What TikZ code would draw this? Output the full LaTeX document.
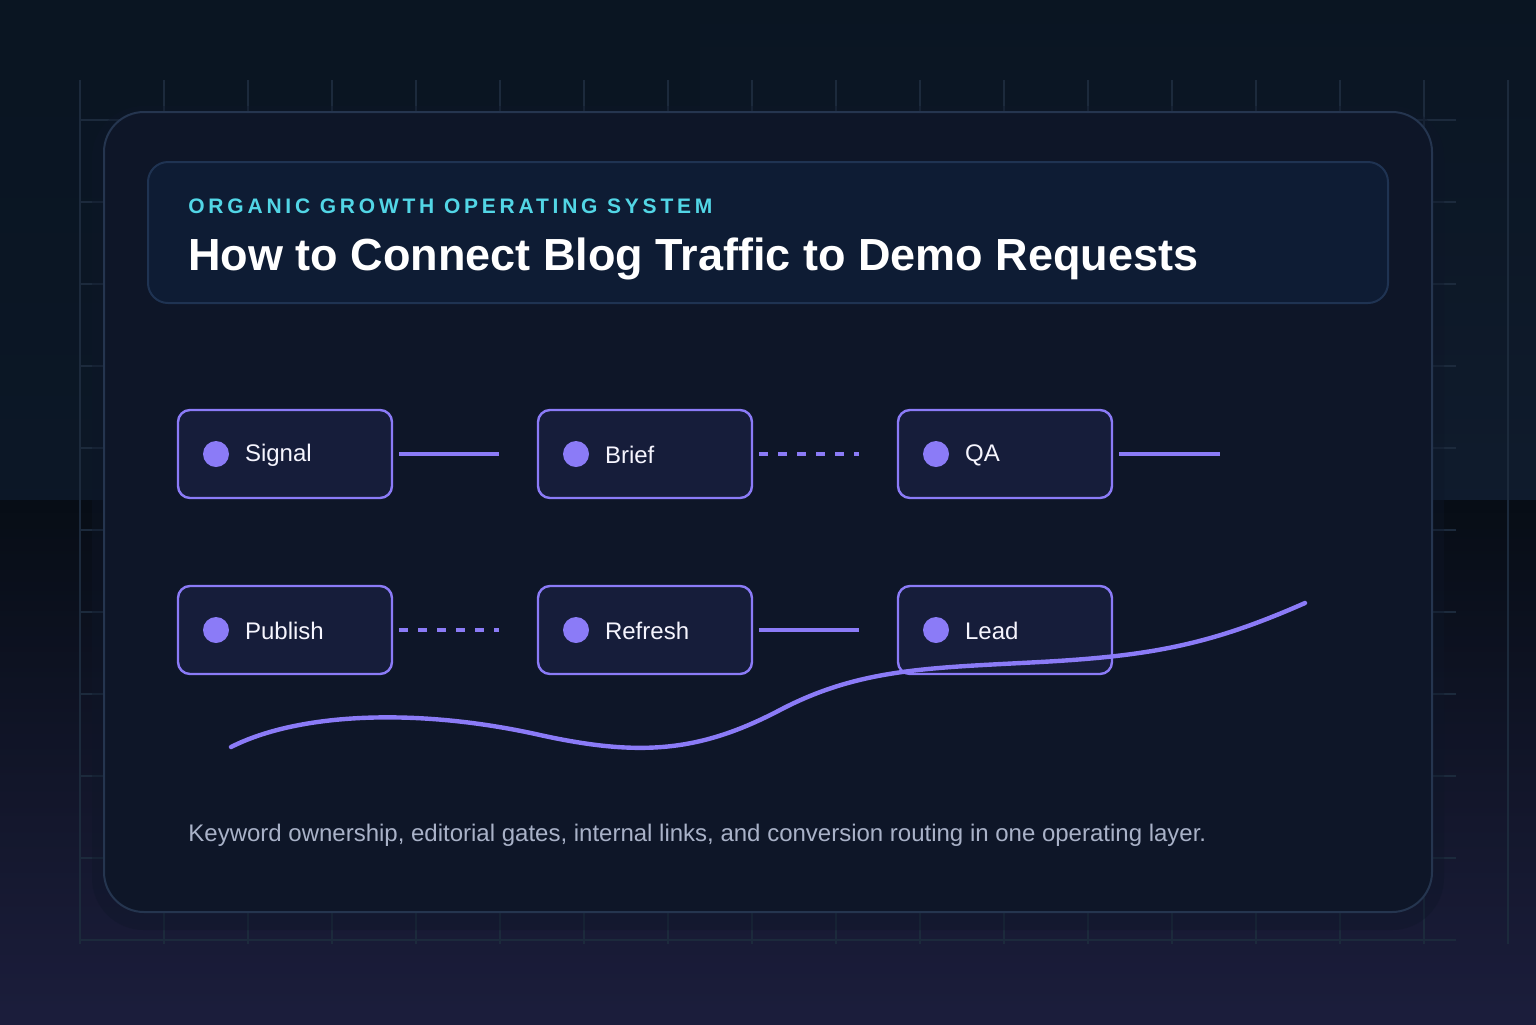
\documentclass[tikz,border=0pt]{standalone}
\usepackage{fontspec}
\setmainfont{Liberation Sans}
\newfontfamily\spaced[LetterSpace=18]{Liberation Sans}
\definecolor{bgA}{HTML}{0A1522}
\definecolor{bgB}{HTML}{152238}
\definecolor{bgC}{HTML}{221A40}
\definecolor{card}{HTML}{0E1628}
\definecolor{cardline}{HTML}{25354F}
\definecolor{head}{HTML}{0E1C34}
\definecolor{headline}{HTML}{1F3352}
\definecolor{cyan}{HTML}{52D6E6}
\definecolor{nodefill}{HTML}{161D3A}
\definecolor{purp}{HTML}{8B7BF7}
\definecolor{cap}{HTML}{A9B2C8}
\definecolor{grid}{HTML}{1C2A3C}
\begin{document}
\begin{tikzpicture}[x=0.5pt,y=-0.5pt,
  stage/.style={draw=purp,line width=1.2pt,fill=nodefill,rounded corners=6pt,minimum width=107pt,minimum height=44pt,inner sep=0pt},
  lbl/.style={anchor=west,text=white!92!purp,font=\fontsize{12}{14}\selectfont},
  dot/.style={circle,fill=purp,minimum size=13pt,inner sep=0pt},
  con/.style={draw=purp,line width=1.6pt},
  dashcon/.style={con,dash pattern=on 4.5pt off 5pt}]
\useasboundingbox (0,0) rectangle (1536,1024);
\shade[left color=bgA,right color=bgB,shading angle=0] (0,0) rectangle (1536,1024);
\shade[top color=bgB!0!black,bottom color=bgC,opacity=0.5] (0,500) rectangle (1536,1024);
\fill[bgA,opacity=0.5] (0,0) rectangle (700,500);
\foreach \x in {80,164,...,1508} \draw[grid,line width=0.6pt] (\x,80) -- (\x,944);
\foreach \y in {120,202,...,940} \draw[grid,line width=0.6pt] (80,\y) -- (1456,\y);
\draw[card,line width=12pt,opacity=0.4,rounded corners=20pt] (104,118) rectangle (1432,918);
\node[draw=cardline,fill=card,line width=1pt,rounded corners=20pt,minimum width=664pt,minimum height=400pt,inner sep=0pt] (cardn) at (768,512) {};
\node[draw=headline,fill=head,line width=1pt,rounded corners=10pt,minimum width=620pt,minimum height=70.5pt,inner sep=0pt] (hdr) at (768,232.5) {};
\node[anchor=base west,inner sep=0pt,text=cyan,font=\spaced\bfseries\fontsize{10.5}{12}\selectfont] (sub) at (188,213) {ORGANIC GROWTH OPERATING SYSTEM};
\node[anchor=base west,inner sep=0pt,text=white,font=\bfseries\fontsize{22.5}{26}\selectfont] (title) at (188,270) {How to Connect Blog Traffic to Demo Requests};
\foreach \n/\t/\x/\y in {a/Signal/285/454,b/Brief/645/454,c/QA/1005/454,d/Publish/285/630,e/Refresh/645/630,f/Lead/1005/630}{
  \node[stage] (\n) at (\x,\y) {};
  \node[dot] (\n d) at (\x-69,\y) {};
  \node[lbl] (\n t) at (\x-47,\y+1) {\t};
}
\coordinate (qend) at (1220,454);
\draw[con] ([xshift=3pt]a.east) -- ([xshift=-19pt]b.west);
\draw[dashcon] ([xshift=3pt]b.east) -- ([xshift=-19pt]c.west);
\draw[con] ([xshift=3pt]c.east) -- (qend);
\draw[dashcon] ([xshift=3pt]d.east) -- ([xshift=-19pt]e.west);
\draw[con] ([xshift=3pt]e.east) -- ([xshift=-19pt]f.west);
\coordinate (w0) at (231,747);
\coordinate (w1) at (1305,603);
\draw[purp,line width=2.2pt,line cap=round] (w0) .. controls (300,712) and (420,708) .. (540,735)
  .. controls (640,757) and (700,752) .. (780,710)
  .. controls (860,668) and (930,668) .. (1040,662)
  .. controls (1150,656) and (1210,645) .. (w1);
\node[anchor=base west,inner sep=0pt,text=cap,font=\fontsize{12}{14}\selectfont] (capt) at (188,841) {Keyword ownership, editorial gates, internal links, and conversion routing in one operating layer.};
\end{tikzpicture}
\end{document}
